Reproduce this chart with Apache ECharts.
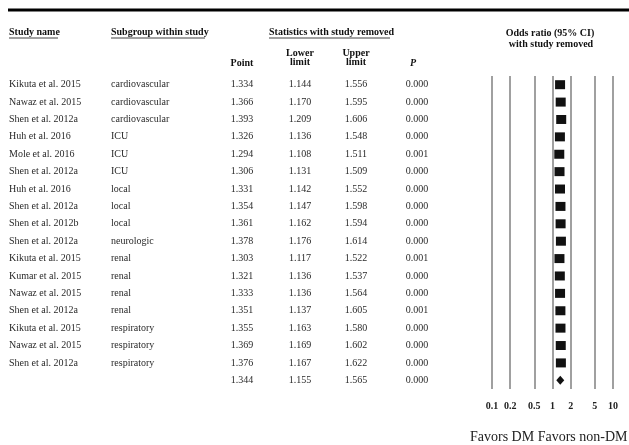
<!DOCTYPE html>
<html><head><meta charset="utf-8">
<script src="https://cdn.jsdelivr.net/npm/echarts@6/dist/echarts.min.js"></script>
<style>html,body{margin:0;padding:0;background:#fff}#c{width:629px;height:445px}</style>
</head><body><div id="c"></div>
<script>
const studies = ['Kikuta et al. 2015','Nawaz et al. 2015','Shen et al. 2012a','Huh et al. 2016','Mole et al. 2016','Shen et al. 2012a','Huh et al. 2016','Shen et al. 2012a','Shen et al. 2012b','Shen et al. 2012a','Kikuta et al. 2015','Kumar et al. 2015','Nawaz et al. 2015','Shen et al. 2012a','Kikuta et al. 2015','Nawaz et al. 2015','Shen et al. 2012a'];
const subgroups = ['cardiovascular','cardiovascular','cardiovascular','ICU','ICU','ICU','local','local','local','neurologic','renal','renal','renal','renal','respiratory','respiratory','respiratory'];
const point = [1.334,1.366,1.393,1.326,1.294,1.306,1.331,1.354,1.361,1.378,1.303,1.321,1.333,1.351,1.355,1.369,1.376];
const lower = [1.144,1.170,1.209,1.136,1.108,1.131,1.142,1.147,1.162,1.176,1.117,1.136,1.136,1.137,1.163,1.169,1.167];
const upper = [1.556,1.595,1.606,1.548,1.511,1.509,1.552,1.598,1.594,1.614,1.522,1.537,1.564,1.605,1.580,1.602,1.622];
const pvals = ['0.000','0.000','0.000','0.000','0.001','0.000','0.000','0.000','0.000','0.000','0.001','0.000','0.000','0.001','0.000','0.000','0.000'];
const summaryPoint = 1.344, summaryLower = 1.155, summaryUpper = 1.565, summaryP = '0.000';
const tickValues = [0.1, 0.2, 0.5, 1, 2, 5, 10];
const tickLabels = ['0.1', '0.2', '0.5', '1', '2', '5', '10'];

const FONT = '"Liberation Serif","Times New Roman",serif';
const nRows = studies.length + 1;
const rowIds = Array.from({length: nRows}, (_, i) => String(i));
const chart = echarts.init(document.getElementById('c'), null, {renderer: 'canvas'});

const squares = point.map((v, i) => [v, i]);
const ciData = point.map((v, i) => [lower[i], upper[i], i]);

const option = {
  animation: false,
  grid: {left: 492, right: 16, top: 76, height: 313},
  xAxis: {
    type: 'log', logBase: 10, min: 0.1, max: 10,
    axisLine: {show: false}, axisTick: {show: false}, splitLine: {show: false},
    axisLabel: {
      customValues: tickValues,
      formatter: v => { let k = tickValues.findIndex(t => Math.abs(t - v) < 1e-6 * t); return k >= 0 ? tickLabels[k] : ''; },
      fontFamily: FONT, fontWeight: 'bold', fontSize: 10, color: '#222', margin: 12
    }
  },
  yAxis: {type: 'category', inverse: true, data: rowIds, show: false},
  series: [
    {
      type: 'custom', z: 2, encode: {x: [0, 1], y: 2}, data: ciData,
      renderItem: (params, api) => {
        const a = api.coord([api.value(0), api.value(2)]);
        const b = api.coord([api.value(1), api.value(2)]);
        return {type: 'line', shape: {x1: a[0], y1: a[1], x2: b[0], y2: b[1]}, style: {stroke: '#111', lineWidth: 1}};
      }
    },
    {
      type: 'scatter', z: 3, symbol: 'rect', symbolSize: [10, 9], data: squares,
      itemStyle: {color: '#111', opacity: 1},
      markLine: {
        z: 1, silent: true, symbol: ['none', 'none'], label: {show: false},
        lineStyle: {color: '#808080', width: 1.5, type: 'solid', opacity: 1},
        data: tickValues.map(v => ({xAxis: v}))
      }
    },
    {
      type: 'custom', z: 3, encode: {x: [0, 1, 2], y: 3},
      data: [[summaryLower, summaryPoint, summaryUpper, studies.length]],
      renderItem: (params, api) => {
        const l = api.coord([api.value(0), api.value(3)]);
        const m = api.coord([api.value(1), api.value(3)]);
        const u = api.coord([api.value(2), api.value(3)]);
        return {type: 'polygon', shape: {points: [[l[0], m[1]], [m[0], m[1] - 4.5], [u[0], m[1]], [m[0], m[1] + 4.5]]}, style: {fill: '#111'}};
      }
    }
  ]
};
chart.setOption(option);

const ys = rowIds.map(id => chart.convertToPixel({yAxisIndex: 0}, id));
const txt = (text, x, y, opts = {}) => ({
  type: 'text', silent: true,
  style: Object.assign({text, x, y, font: (opts.bold ? 'bold ' : '') + (opts.size || 10) + 'px ' + FONT,
    fill: opts.color || '#2a2a2a', textAlign: opts.align || 'left', textVerticalAlign: 'middle'}, opts.style || {})
});
const line = (x1, y1, x2, y2, w, c) => ({type: 'line', silent: true, shape: {x1, y1, x2, y2}, style: {stroke: c || '#111', lineWidth: w}});

const g = [];
g.push(line(8, 10, 629, 10, 3, '#000'));
g.push(txt('Study name', 9, 32, {bold: true, color: '#111'}));
g.push(line(9, 38, 58, 38, 0.8));
g.push(txt('Subgroup within study', 111, 32, {bold: true, color: '#111'}));
g.push(line(111, 38, 205, 38, 0.8));
g.push(txt('Statistics with study removed', 269, 32, {bold: true, color: '#111'}));
g.push(line(269, 38, 390, 38, 0.8));
g.push(txt('Odds ratio (95% CI)', 550, 33, {bold: true, color: '#111', align: 'center'}));
g.push(txt('with study removed', 551, 44, {bold: true, color: '#111', align: 'center'}));
g.push(txt('Point', 242, 63, {bold: true, color: '#111', align: 'center'}));
g.push(txt('Lower', 300, 53, {bold: true, color: '#111', align: 'center'}));
g.push(txt('limit', 300, 62, {bold: true, color: '#111', align: 'center'}));
g.push(txt('Upper', 356, 53, {bold: true, color: '#111', align: 'center'}));
g.push(txt('limit', 356, 62, {bold: true, color: '#111', align: 'center'}));
g.push(txt('P', 413, 63, {bold: true, color: '#111', align: 'center', style: {fontStyle: 'italic', font: 'italic bold 10px ' + FONT}}));

studies.forEach((s, i) => {
  const y = ys[i];
  g.push(txt(s, 9, y));
  g.push(txt(subgroups[i], 111, y));
  g.push(txt(point[i].toFixed(3), 242, y, {align: 'center'}));
  g.push(txt(lower[i].toFixed(3), 300, y, {align: 'center'}));
  g.push(txt(upper[i].toFixed(3), 356, y, {align: 'center'}));
  g.push(txt(pvals[i], 417, y, {align: 'center'}));
});
const ySum = ys[studies.length];
g.push(txt(summaryPoint.toFixed(3), 242, ySum, {align: 'center'}));
g.push(txt(summaryLower.toFixed(3), 300, ySum, {align: 'center'}));
g.push(txt(summaryUpper.toFixed(3), 356, ySum, {align: 'center'}));
g.push(txt(summaryP, 417, ySum, {align: 'center'}));
g.push(txt('Favors DM Favors non-DM', 470, 437, {size: 14, color: '#222'}));

chart.setOption({graphic: {elements: g}});
</script></body></html>
